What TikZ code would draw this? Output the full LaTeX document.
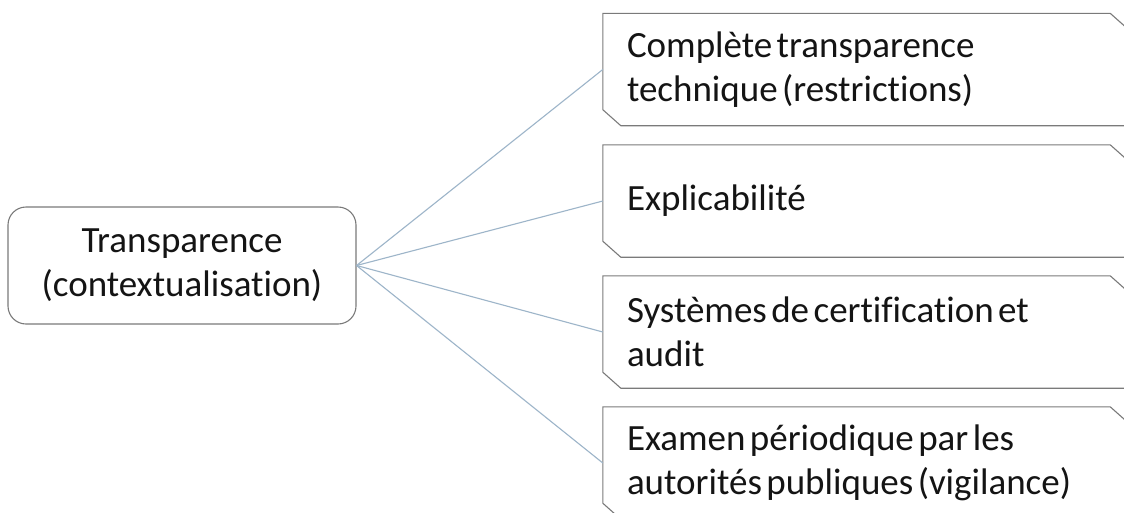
\documentclass[tikz,border=0pt]{standalone}
\usepackage{fontspec}
\setmainfont{Carlito}[RawFeature=-liga]
\definecolor{boxline}{HTML}{7A7A7A}
\definecolor{connline}{HTML}{9DB5C9}
\definecolor{txt}{HTML}{141414}
\begin{document}
\begin{tikzpicture}[x=1pt,y=-1pt,
  every node/.style={font=\fontsize{37}{44}\selectfont, text=txt,
    execute at begin node={\spaceskip=0.12em plus 0.02em minus 0.02em\relax\xspaceskip=\spaceskip}},
  centerbox/.style={draw=boxline, line width=1.1pt, rounded corners=18pt,
    minimum width=348pt, minimum height=117pt, align=center, inner sep=0pt},
  itembox/.style={minimum width=525pt, minimum height=112pt, inner xsep=24pt, inner ysep=0pt,
    text width=477pt, align=left},
  snip/.style={draw=boxline, line width=1.1pt},
  conn/.style={draw=connline, line width=1.1pt}]
\useasboundingbox (0,0) rectangle (1124,512);
\clip (0,0) rectangle (1124,512);
\fill[white] (0,0) rectangle (1124,512);

\node[centerbox] (c) at (182,265.5) {Transparence\\(contextualisation)};

\node[itembox] (b1) at (865.5,69.5) {Complète transparence\\technique (restrictions)};
\node[itembox] (b2) at (865.5,201) {Explicabilité};
\node[itembox] (b3) at (865.5,332) {Systèmes de certification et\\audit};
\node[itembox] (b4) at (865.5,463) {Examen périodique par les\\autorités publiques (vigilance)};

\foreach \b in {b1,b2,b3,b4}{
  \draw[snip] (\b.north west) -- ([xshift=-18pt]\b.north east) -- ([yshift=-16pt]\b.north east)
    -- (\b.south east) -- ([xshift=18pt]\b.south west) -- ([yshift=16pt]\b.south west) -- cycle;
}

\foreach \b in {b1,b2,b3,b4}{
  \draw[conn] (c.east) -- (\b.west);
}
\end{tikzpicture}
\end{document}
